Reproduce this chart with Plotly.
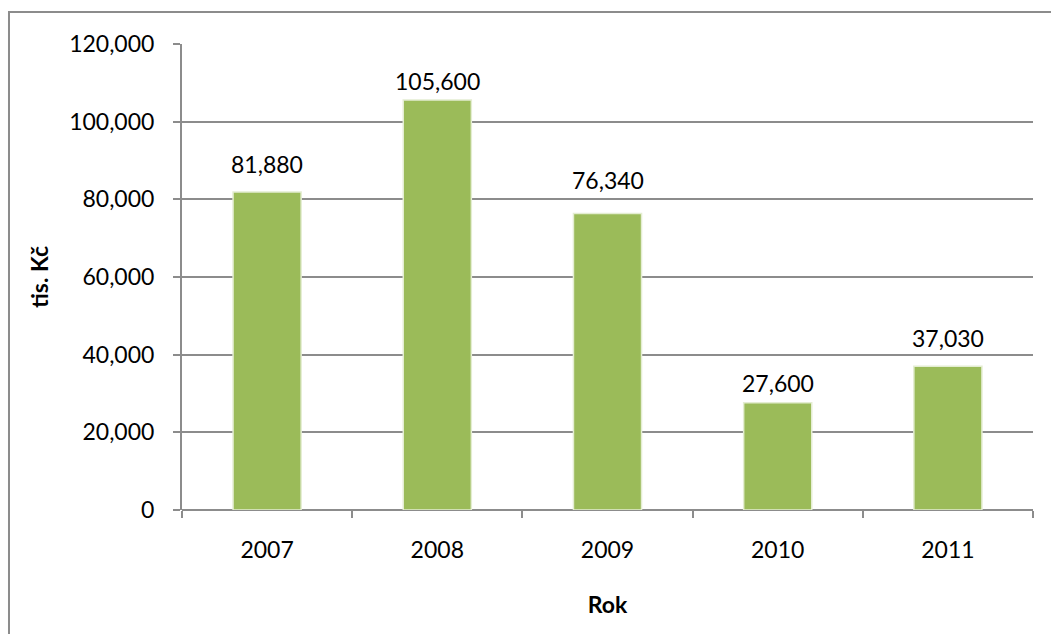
import plotly.graph_objects as go

years = ["2007", "2008", "2009", "2010", "2011"]
values = [81880, 105600, 76340, 27600, 37030]

FONT = "Lato, Calibri, 'Open Sans', sans-serif"
GRID = "#8c8c8c"
FS = 23

# vertical offset (px) of each value label above its bar
label_lift = [12, 3, 18, 4, 12]

fig = go.Figure()
fig.add_trace(go.Bar(
    x=years,
    y=values,
    width=0.4,
    marker=dict(color="#9bbb59", line=dict(color="#e4edd2", width=1.5)),
    hoverinfo="x+y",
))

# value labels above each bar (x given as category index)
for i, v in enumerate(values):
    fig.add_annotation(
        x=i, y=v, text=f"{v:,}",
        showarrow=False, yanchor="bottom", yshift=label_lift[i],
        font=dict(family=FONT, size=FS, color="#000000"),
    )

fig.update_layout(
    width=1051,
    height=634,
    margin=dict(l=182, r=18, t=44, b=124),
    paper_bgcolor="white",
    plot_bgcolor="white",
    showlegend=False,
    font=dict(family=FONT, size=FS, color="#000000"),
    xaxis=dict(
        type="category",
        categoryorder="array",
        categoryarray=years,
        range=[-0.5, 4.5],
        automargin=False,
        showgrid=False,
        showline=False,
        ticks="outside",
        tickson="boundaries",
        ticklen=7,
        tickcolor=GRID,
        tickwidth=2,
        tickangle=0,
        ticklabelstandoff=24,
        tickfont=dict(family=FONT, size=FS),
        title=dict(text="<b>Rok</b>", font=dict(family=FONT, size=FS), standoff=34),
    ),
    yaxis=dict(
        range=[0, 120000],
        dtick=20000,
        tickformat=",",
        automargin=False,
        showgrid=True,
        gridcolor=GRID,
        gridwidth=1.5,
        zeroline=True,
        zerolinecolor=GRID,
        zerolinewidth=2,
        showline=True,
        linecolor=GRID,
        linewidth=2,
        ticks="outside",
        ticklen=7,
        tickcolor=GRID,
        tickwidth=2,
        ticklabelstandoff=14,
        tickfont=dict(family=FONT, size=FS),
        title=dict(text="<b>tis. Kč</b>", font=dict(family=FONT, size=FS), standoff=14),
    ),
    bargap=0.6,
)

# chart frame around the whole figure
fig.add_shape(
    type="rect", xref="paper", yref="paper",
    x0=-0.2033, x1=1.03, y0=-0.32, y1=1.0687,
    line=dict(color="#8c8c8c", width=2),
    fillcolor="rgba(0,0,0,0)",
    layer="below",
)

fig.write_html("out.html")
